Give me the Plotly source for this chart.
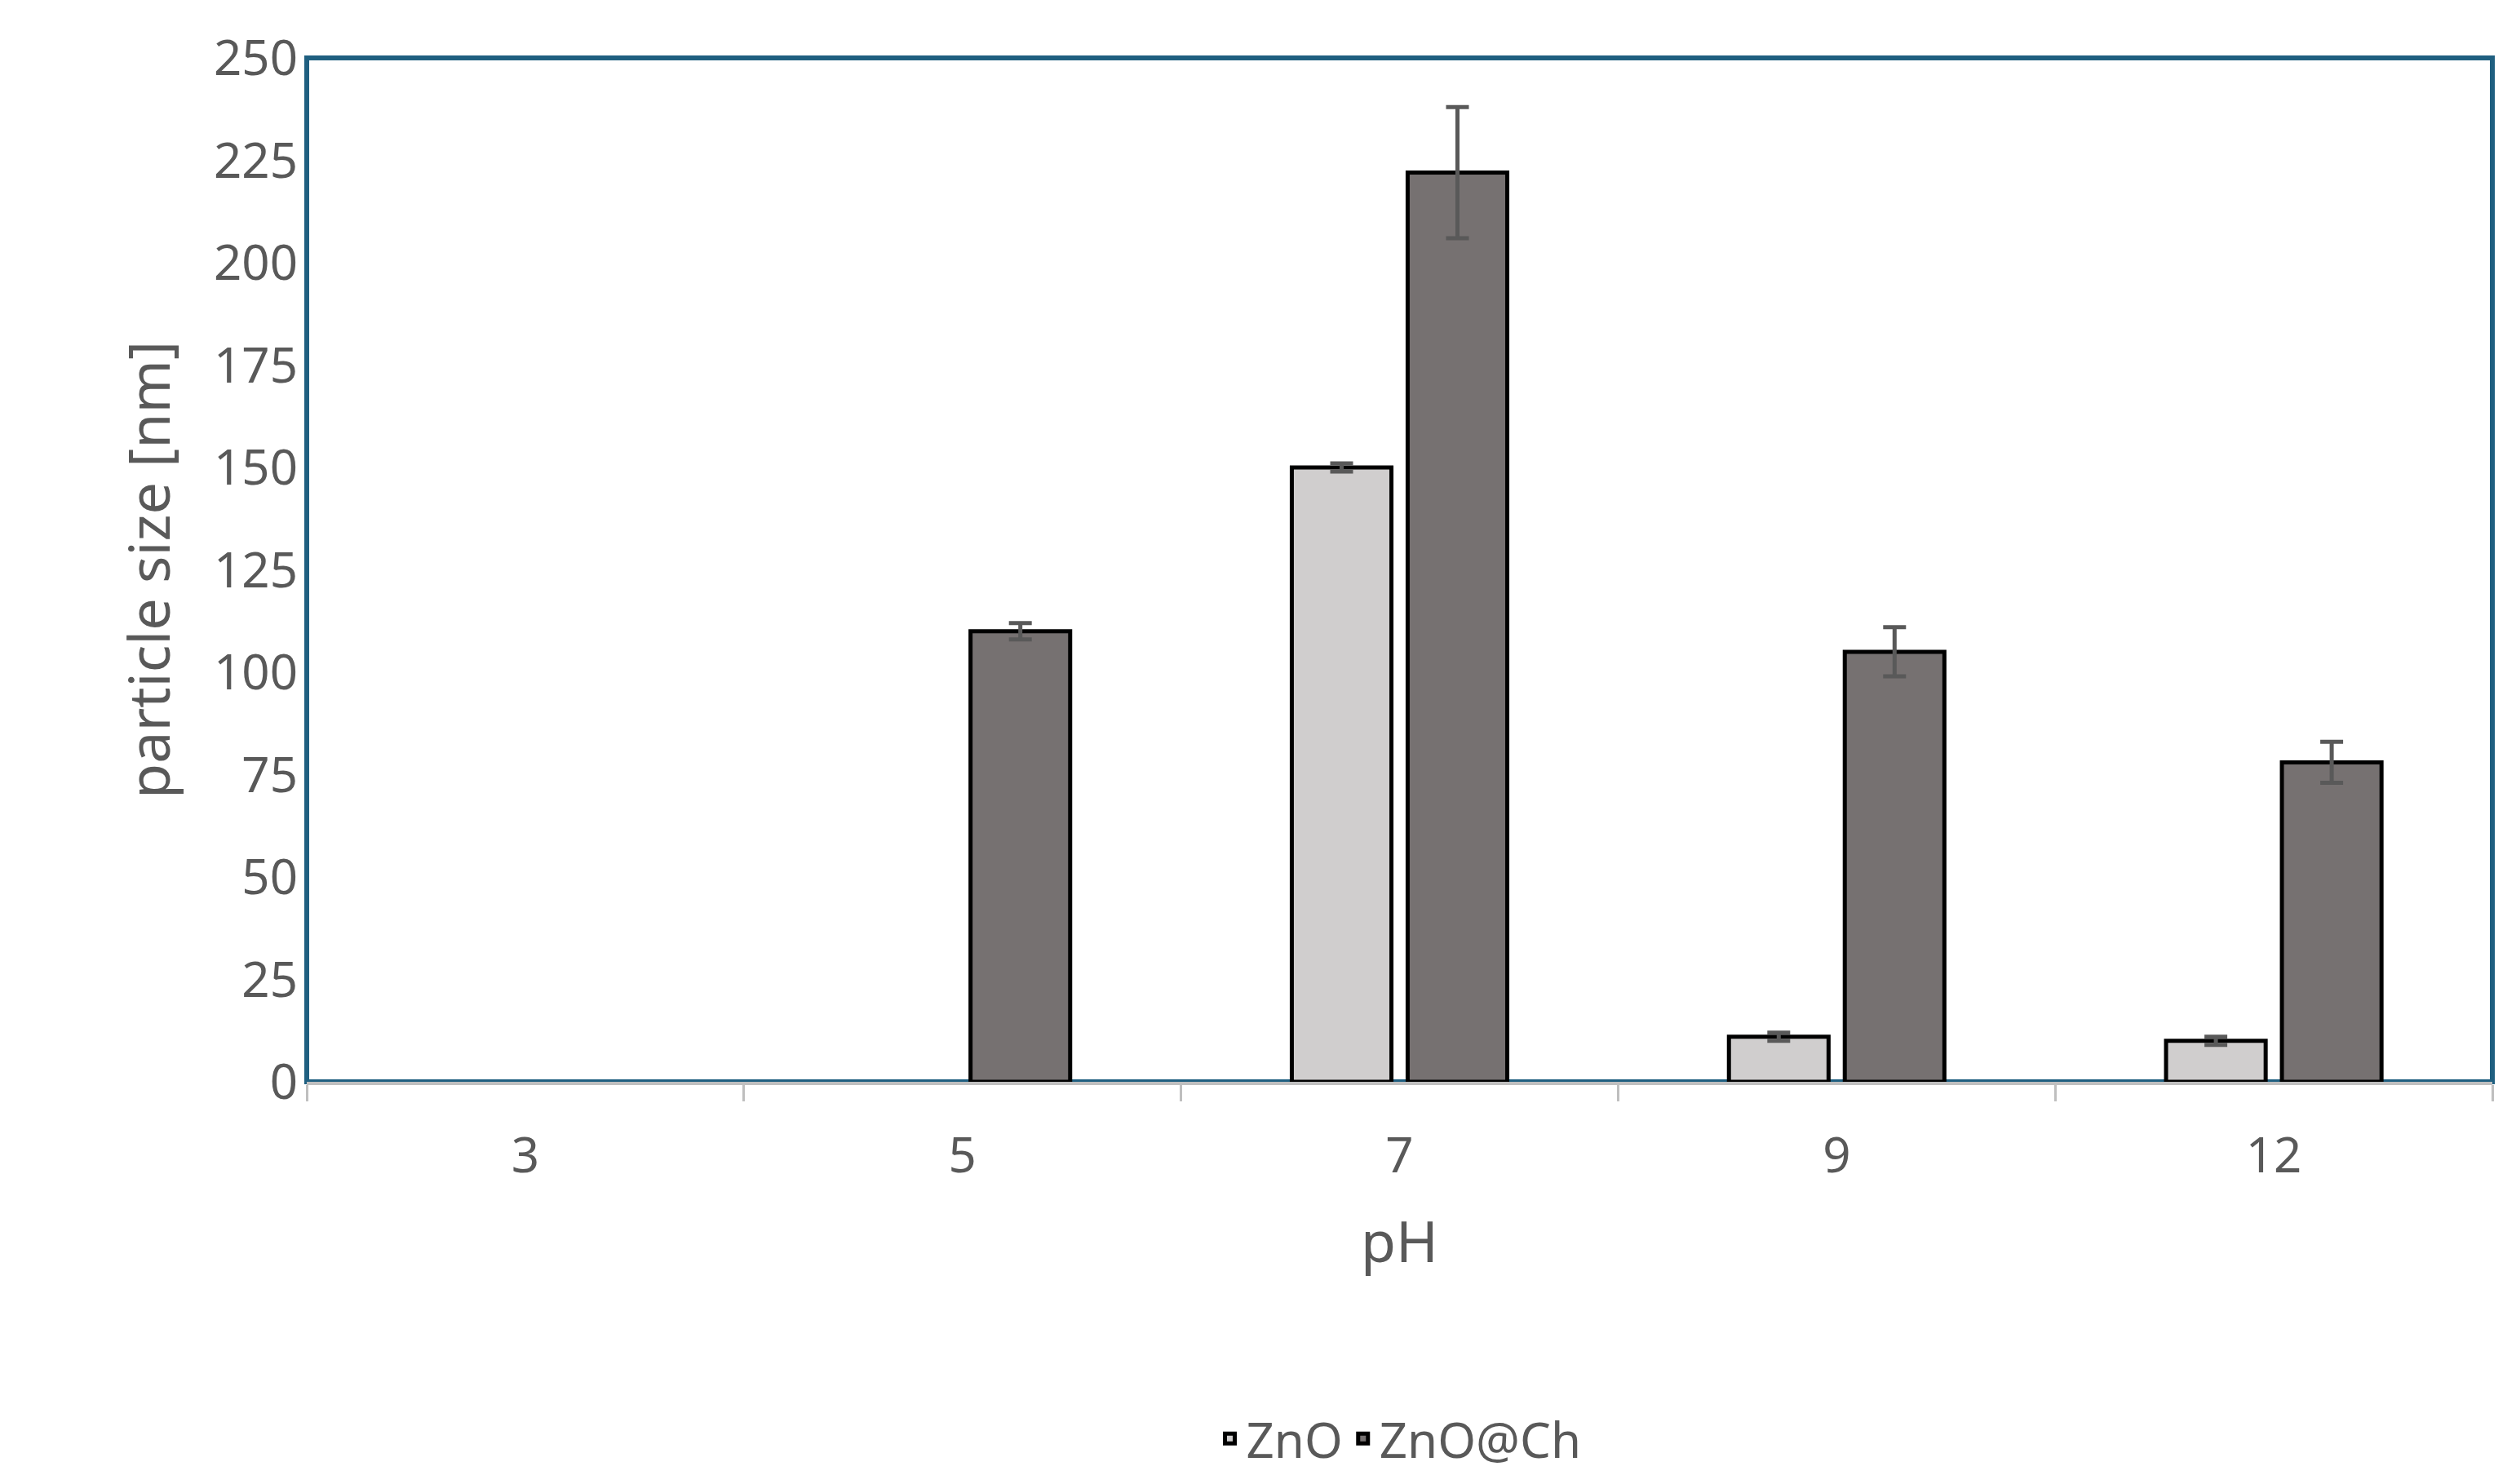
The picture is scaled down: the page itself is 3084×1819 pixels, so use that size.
import plotly.graph_objects as go

ph = ["3", "5", "7", "9", "12"]
zno = [None, None, 150, 11, 10]
zno_err = [0, 0, 1, 1, 1]
znoch = [None, 110, 222, 105, 78]
znoch_err = [0, 2, 16, 6, 5]

font = "Noto Sans"
fig = go.Figure()
fig.add_bar(x=ph, y=zno, name="ZnO", marker=dict(color="#d0cece", line=dict(color="black", width=5)),
            error_y=dict(type="data", array=zno_err, color="#595959", thickness=5, width=14))
fig.add_bar(x=ph, y=znoch, name="ZnO@Ch", marker=dict(color="#767171", line=dict(color="black", width=5)),
            error_y=dict(type="data", array=znoch_err, color="#595959", thickness=5, width=14))

fig.update_layout(
    width=3084, height=1819, plot_bgcolor="white", paper_bgcolor="white",
    margin=dict(l=368, r=37, t=63, b=501, autoexpand=False),
    barmode="group", bargap=0.47, bargroupgap=0.14,
    font=dict(family=font, color="#595959", size=60),
    legend=dict(orientation="h", x=0.5, xanchor="center", yref="container", y=0.035, yanchor="middle",
                font=dict(size=60, color="#595959"), traceorder="normal"),
    shapes=[dict(type="rect", xref="paper", yref="paper", x0=0, x1=1, y0=0, y1=1,
                 line=dict(color="#1f5f80", width=6), layer="below")],
)
fig.update_xaxes(title=dict(text="pH", font=dict(size=70), standoff=45),
                 showline=True, linecolor="#bfbfbf", linewidth=4,
                 ticks="outside", tickson="boundaries", ticklen=20, tickcolor="#bfbfbf", tickwidth=3,
                 showgrid=False, ticklabelstandoff=35)
fig.update_yaxes(title=dict(text="particle size [nm]", font=dict(size=70), standoff=30),
                 range=[0, 250], dtick=25, showgrid=False, zeroline=False, ticks="", ticklabelstandoff=10)
fig.write_html("out.html")
